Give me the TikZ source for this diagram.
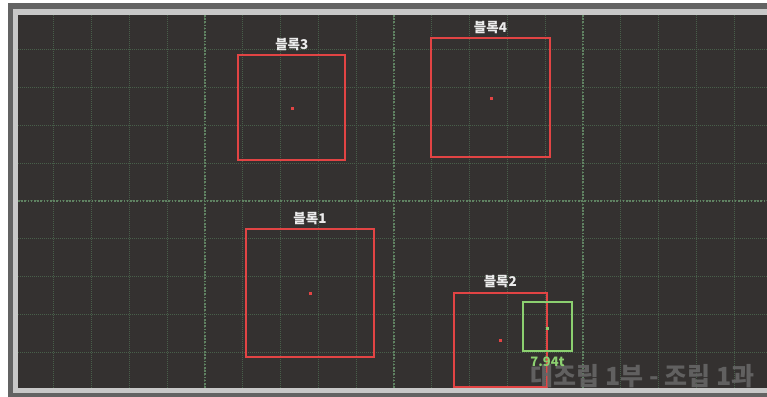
\documentclass[tikz,border=0pt]{standalone}
\usepackage{fontspec}
\usepackage{tikz}
\usetikzlibrary{positioning}
\newfontfamily\krfont{Noto Sans CJK KR}
\definecolor{panelbg}{RGB}{52,49,48}
\definecolor{frameout}{RGB}{99,99,99}
\definecolor{framein}{RGB}{200,200,200}
\definecolor{gridminor}{RGB}{72,95,74}
\definecolor{gridmajor}{RGB}{96,130,98}
\definecolor{blockred}{RGB}{226,68,68}
\definecolor{selgreen}{RGB}{140,208,112}
\definecolor{wmgrey}{RGB}{102,102,102}
\begin{document}
\begin{tikzpicture}[x=1pt,y=-1pt,font=\krfont,
  blk/.style={draw=blockred,line width=1.8pt,inner sep=0pt,minimum width=#1},
  sel/.style={draw=selgreen,line width=1.8pt,inner sep=0pt},
  cdot/.style={fill=blockred,inner sep=0pt,minimum size=3pt},
  gdot/.style={fill=selgreen,inner sep=0pt,minimum size=3pt},
  lbl/.style={text=white!92!black,font=\krfont\fontsize{13.5}{14}\selectfont\bfseries,inner sep=0pt}]
\useasboundingbox (0,0) rectangle (767,396);
% frame and panel
\fill[frameout] (8,3) rectangle (770,399);
\fill[framein] (12.5,9) rectangle (770,393.3);
\fill[panelbg] (18,15) rectangle (770,388.3);
% grid
\begin{scope}
\clip (18,15) rectangle (767,388.3);
\foreach \k in {-4,...,15}
  \draw[gridminor,line width=0.8pt,dash pattern=on 1pt off 1pt] ({204.7+37.8*\k},15) -- ({204.7+37.8*\k},388.3);
\foreach \k in {-4,...,5}
  \draw[gridminor,line width=0.8pt,dash pattern=on 1pt off 1pt] (18,{200.7+37.8*\k}) -- (767,{200.7+37.8*\k});
\foreach \k in {0,1,2}
  \draw[gridmajor,line width=1.6pt,dash pattern=on 1.6pt off 1.6pt] ({204.7+189*\k},15) -- ({204.7+189*\k},388.3);
\draw[gridmajor,line width=1.6pt,dash pattern=on 1.6pt off 1.6pt] (18,200.7) -- (767,200.7);
\end{scope}
% blocks
\node[blk=107pt,minimum height=105pt] (b3) at (291.8,107.5) {};
\node[blk=119pt,minimum height=119pt] (b4) at (490.5,97.5) {};
\node[blk=128.6pt,minimum height=128pt] (b1) at (310,293) {};
\node[blk=92.7pt,minimum height=94pt] (b2) at (500.3,339.7) {};
\node[cdot] (c3) at (292.3,108.7) {};
\node[cdot] (c4) at (491,98.7) {};
\node[cdot] (c1) at (310.7,293.3) {};
\node[cdot] (c2) at (500.7,340) {};
\node[lbl,above=3.5pt of b3] (t3) {블록3};
\node[lbl,above=3.5pt of b4] (t4) {블록4};
\node[lbl,above=3.5pt of b1] (t1) {블록1};
\node[lbl,above=3.5pt of b2] (t2) {블록2};
% watermark
\node[text=wmgrey,opacity=0.9,font=\krfont\fontsize{25}{27}\selectfont\bfseries,inner sep=0pt,anchor=east] (wm) at (755,376) {대조립 1부 - 조립 1과};
% selected piece
\node[sel,minimum width=49.6pt,minimum height=48.7pt] (g1) at (547.5,326.7) {};
\node[gdot] (gc) at (547.3,328) {};
\node[text=selgreen,font=\krfont\fontsize{13}{14}\selectfont\bfseries,inner sep=0pt,below=5pt of g1] (wt) {7.94t};
\end{tikzpicture}
\end{document}
